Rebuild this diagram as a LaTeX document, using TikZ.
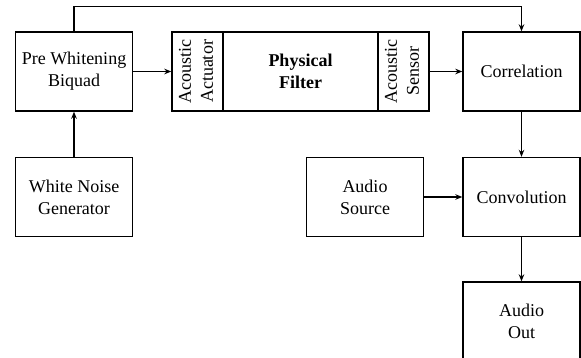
\documentclass[tikz,border=0pt]{standalone}
\usepackage{fontspec}
\setmainfont{Liberation Serif}
\usetikzlibrary{arrows.meta}
\tikzstyle{blk} = [rectangle, draw, line width=1.4pt, minimum width=117pt, minimum height=79pt, align=center, inner sep=0pt]
\tikzstyle{cell} = [rectangle, draw, line width=1.4pt, minimum height=79pt, align=center, inner sep=0pt]
\tikzstyle{sig} = [line width=1.4pt, -{Stealth[length=7pt,width=5.5pt]}]
\newcommand{\uptext}[1]{\rotatebox{90}{\begin{tabular}{@{}c@{}}#1\end{tabular}}}

\begin{document}
\begin{tikzpicture}[x=1pt,y=-1pt,font=\fontsize{18}{22}\selectfont]
	\useasboundingbox (0,0) rectangle (581,358);
		\node[blk] (pwb) at (74,71.5) {Pre Whitening\\Biquad};
		\node[blk] (wng) at (74,197) {White Noise\\Generator};
		\node[cell, minimum width=51pt] (act) at (197.5,71.5) {\uptext{Acoustic\\Actuator}};
		\node[cell, minimum width=155pt, font=\fontsize{18}{22}\selectfont\bfseries] (filt) at (300.5,71.5) {Physical\\Filter};
		\node[cell, minimum width=51pt] (sen) at (403.5,71.5) {\uptext{Acoustic\\Sensor}};
		\node[blk] (cor) at (521.5,71.5) {Correlation};
		\node[blk] (src) at (365,197) {Audio\\Source};
		\node[blk] (conv) at (521.5,197) {Convolution};
		\node[blk] (out) at (521.5,321.5) {Audio\\Out};
		\foreach \from/\to in {wng/pwb,pwb/act,sen/cor,cor/conv,src/conv,conv/out}
		\draw[sig] (\from) -- (\to);
	%	feedback over the top
		\draw[sig] (pwb.north) -- ++(0,-25) -| (cor.north);
	\end{tikzpicture}
\end{document}
